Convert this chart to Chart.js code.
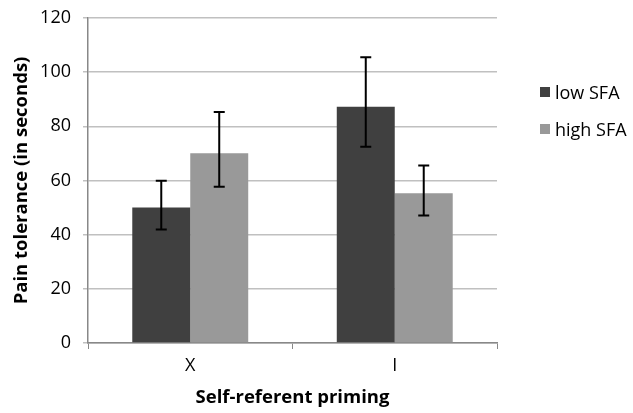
<!DOCTYPE html>
<html lang="en">
<head>
  <meta charset="UTF-8">
  <title>Pain tolerance by self-referent priming</title>
  <script src="https://cdn.jsdelivr.net/npm/chart.js"></script>
  <style>
    html, body { margin: 0; padding: 0; background: #fff; }
    #wrap { position: relative; width: 633px; height: 413px; }
    .legend { position: absolute; left: 540px; font-family: "Open Sans", sans-serif; font-size: 18px; color: #000; line-height: 22px; }
    .legend span { display: inline-block; width: 10px; height: 10px; margin-right: 5px; vertical-align: 2px; }
  </style>
</head>
<body>
  <div id="wrap">
    <canvas id="chart" width="633" height="413"></canvas>
    <div class="legend" style="top:81px"><span style="background:#404040"></span>low SFA</div>
    <div class="legend" style="top:118px"><span style="background:#999999"></span>high SFA</div>
  </div>

  <script>
    // datos
    const categories = ['X', 'I'];
    const lowSFA = [50, 87.2];
    const highSFA = [70.1, 55.3];
    // extremos de las barras de error
    const lowSFAUpper = [59.9, 105.5];
    const lowSFALower = [41.9, 72.5];
    const highSFAUpper = [85.3, 65.5];
    const highSFALower = [57.7, 47.1];
    const yTicks = [0, 20, 40, 60, 80, 100, 120];

    const errorBounds = [
      { upper: lowSFAUpper, lower: lowSFALower },
      { upper: highSFAUpper, lower: highSFALower }
    ];

    // dibuja las barras de error usando la escala y
    const errorBars = {
      id: 'errorBars',
      afterDatasetsDraw(chart) {
        const ctx = chart.ctx;
        const y = chart.scales.y;
        ctx.save();
        ctx.strokeStyle = '#000';
        ctx.lineWidth = 2;
        chart.data.datasets.forEach((ds, i) => {
          const meta = chart.getDatasetMeta(i);
          meta.data.forEach((bar, j) => {
            const top = y.getPixelForValue(errorBounds[i].upper[j]);
            const bottom = y.getPixelForValue(errorBounds[i].lower[j]);
            ctx.beginPath();
            ctx.moveTo(bar.x, top);
            ctx.lineTo(bar.x, bottom);
            ctx.moveTo(bar.x - 5.5, top);
            ctx.lineTo(bar.x + 5.5, top);
            ctx.moveTo(bar.x - 5.5, bottom);
            ctx.lineTo(bar.x + 5.5, bottom);
            ctx.stroke();
          });
        });
        ctx.restore();
      }
    };

    const font = { family: '"Open Sans", sans-serif', size: 18 };
    const titleFont = { family: '"Open Sans", sans-serif', size: 18.5, weight: 'bold' };

    new Chart(document.getElementById('chart'), {
      type: 'bar',
      data: {
        labels: categories,
        datasets: [
          { label: 'low SFA', data: lowSFA, backgroundColor: '#404040', barPercentage: 1, categoryPercentage: 0.567 },
          { label: 'high SFA', data: highSFA, backgroundColor: '#999999', barPercentage: 1, categoryPercentage: 0.567 }
        ]
      },
      options: {
        responsive: false,
        animation: false,
        layout: { padding: { left: 11, right: 136, top: 18, bottom: 0 } },
        plugins: {
          legend: { display: false },
          tooltip: { enabled: false }
        },
        scales: {
          x: {
            afterFit(scale) { scale.height = 70; scale.paddingLeft = 0; scale.paddingRight = 0; },
            grid: { display: true, drawOnChartArea: false, drawTicks: true, tickLength: 6, color: '#888', offset: true },
            border: { color: '#888', width: 1.5 },
            ticks: { color: '#000', font: font, padding: 6 },
            title: { display: true, text: 'Self-referent priming', color: '#000', font: titleFont, padding: { top: 2 } }
          },
          y: {
            min: 0,
            max: 120,
            afterFit(scale) { scale.width = 77; scale.paddingTop = 0; scale.paddingBottom = 0; },
            afterBuildTicks(scale) { scale.ticks = yTicks.map(v => ({ value: v })); },
            grid: { color: '#c0c0c0', lineWidth: 1.5, drawTicks: true, tickLength: 5 },
            border: { color: '#888', width: 1.5 },
            ticks: { color: '#000', font: font, padding: 12 },
            title: { display: true, text: 'Pain tolerance (in seconds)', color: '#000', font: titleFont, padding: 0 }
          }
        }
      },
      plugins: [errorBars]
    });
  </script>
</body>
</html>
